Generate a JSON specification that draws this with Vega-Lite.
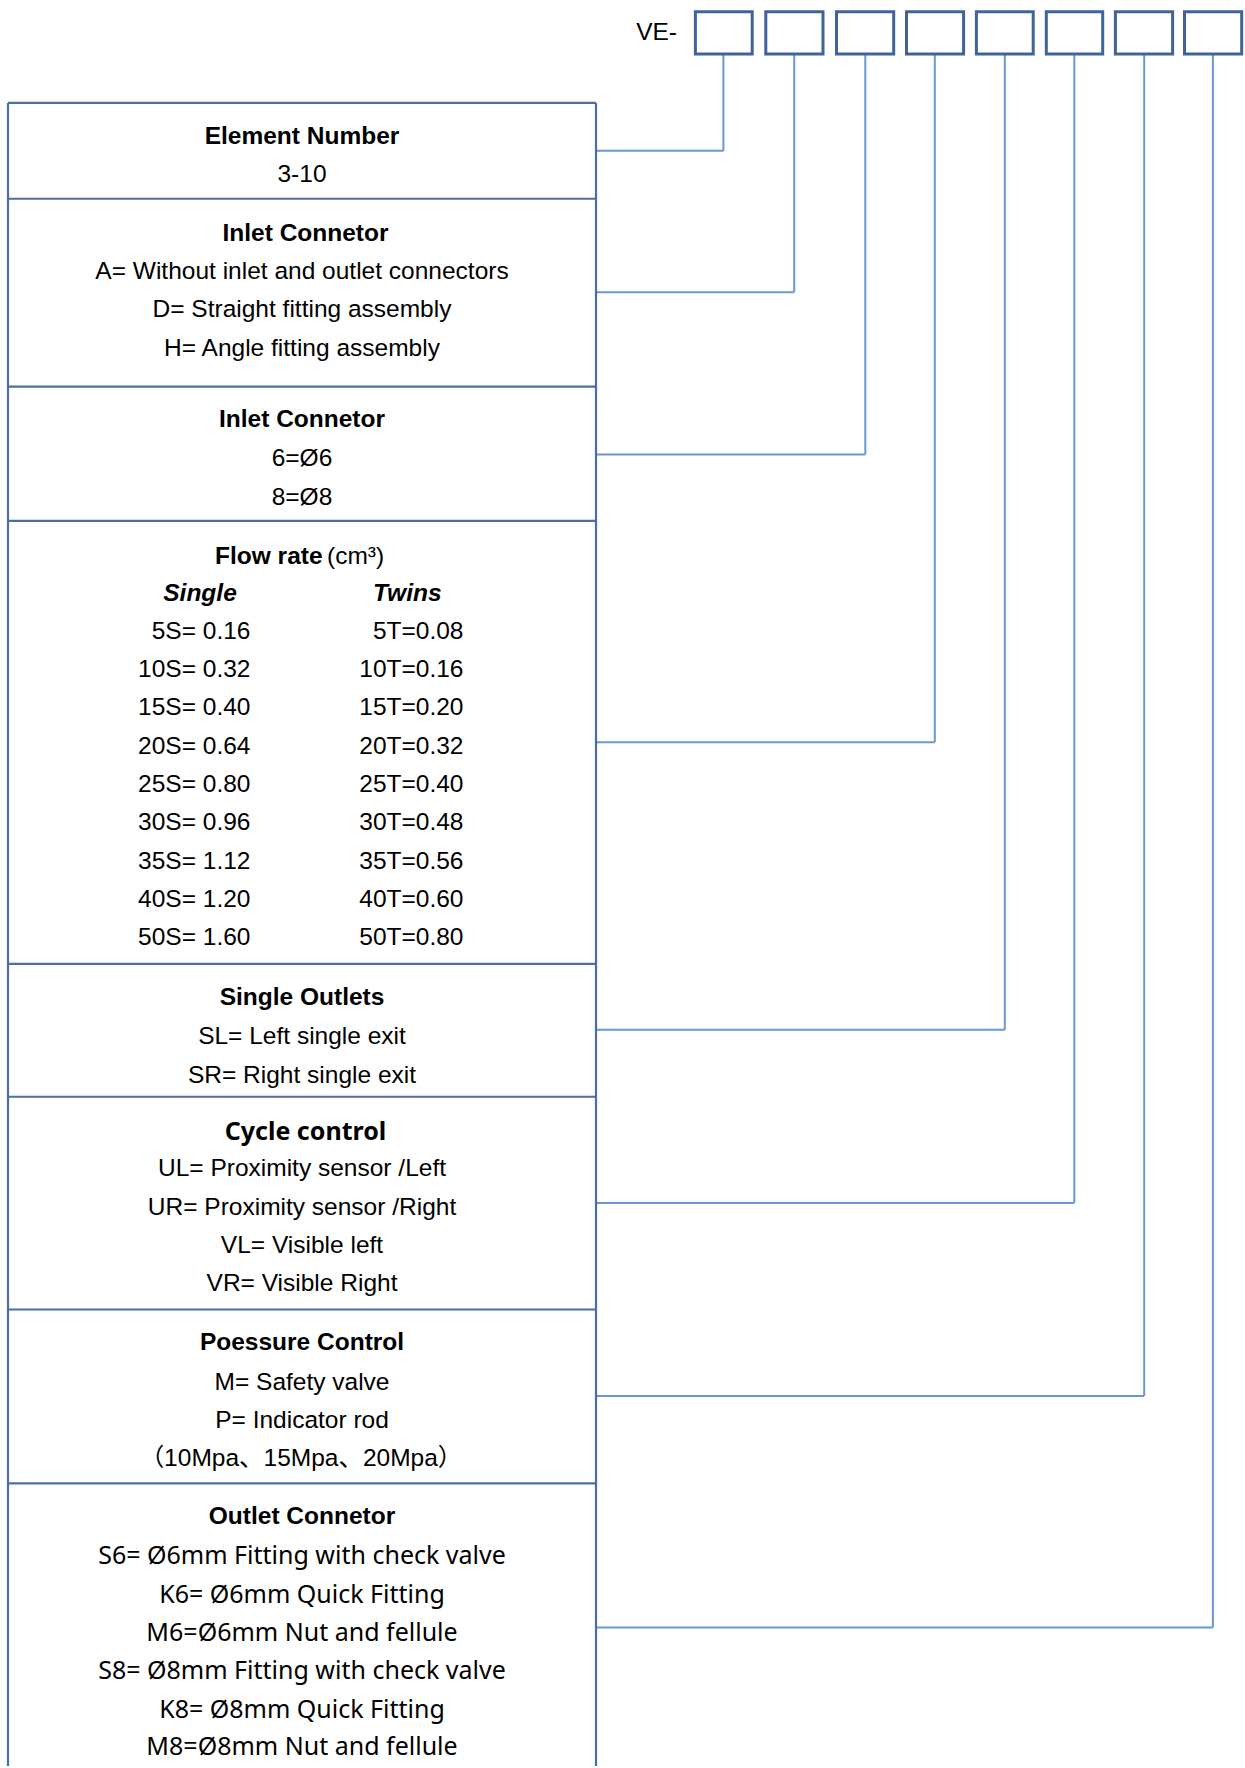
{
  "$schema": "https://vega.github.io/schema/vega-lite/v6.json",
  "width": 1245,
  "height": 1768,
  "autosize": {"type": "fit", "contains": "padding"},
  "padding": 0,
  "background": "white",
  "config": {"view": {"stroke": null}},
  "datasets": {
    "boxes": [
      {"slot": 1, "left": 695.4, "right": 752.2, "top": 11.7, "bottom": 54},
      {"slot": 2, "left": 765.8, "right": 823.0, "top": 11.7, "bottom": 54},
      {"slot": 3, "left": 836.5, "right": 893.7, "top": 11.7, "bottom": 54},
      {"slot": 4, "left": 906.5, "right": 963.6, "top": 11.7, "bottom": 54},
      {"slot": 5, "left": 976.4, "right": 1033.2, "top": 11.7, "bottom": 54},
      {"slot": 6, "left": 1046.3, "right": 1102.7, "top": 11.7, "bottom": 54},
      {"slot": 7, "left": 1115.4, "right": 1172.6, "top": 11.7, "bottom": 54},
      {"slot": 8, "left": 1184.5, "right": 1241.7, "top": 11.7, "bottom": 54}
    ],
    "segments": [
      {"kind": "table", "x": 8, "y": 103, "x2": 8, "y2": 1768},
      {"kind": "table", "x": 596, "y": 103, "x2": 596, "y2": 1768},
      {"kind": "table", "x": 8, "y": 103, "x2": 596, "y2": 103},
      {"kind": "table", "x": 8, "y": 199, "x2": 596, "y2": 199},
      {"kind": "table", "x": 8, "y": 387, "x2": 596, "y2": 387},
      {"kind": "table", "x": 8, "y": 521.5, "x2": 596, "y2": 521.5},
      {"kind": "table", "x": 8, "y": 965, "x2": 596, "y2": 965},
      {"kind": "table", "x": 8, "y": 1098, "x2": 596, "y2": 1098},
      {"kind": "table", "x": 8, "y": 1311, "x2": 596, "y2": 1311},
      {"kind": "table", "x": 8, "y": 1485, "x2": 596, "y2": 1485},
      {"kind": "link", "x": 723.4, "y": 54, "x2": 723.4, "y2": 151},
      {"kind": "link", "x": 596, "y": 151, "x2": 723.4, "y2": 151},
      {"kind": "link", "x": 794.2, "y": 54, "x2": 794.2, "y2": 292.5},
      {"kind": "link", "x": 596, "y": 292.5, "x2": 794.2, "y2": 292.5},
      {"kind": "link", "x": 865.3, "y": 54, "x2": 865.3, "y2": 455},
      {"kind": "link", "x": 596, "y": 455, "x2": 865.3, "y2": 455},
      {"kind": "link", "x": 934.8, "y": 54, "x2": 934.8, "y2": 743},
      {"kind": "link", "x": 596, "y": 743, "x2": 934.8, "y2": 743},
      {"kind": "link", "x": 1004.8, "y": 54, "x2": 1004.8, "y2": 1031},
      {"kind": "link", "x": 596, "y": 1031, "x2": 1004.8, "y2": 1031},
      {"kind": "link", "x": 1074.3, "y": 54, "x2": 1074.3, "y2": 1204.3},
      {"kind": "link", "x": 596, "y": 1204.3, "x2": 1074.3, "y2": 1204.3},
      {"kind": "link", "x": 1144.2, "y": 54, "x2": 1144.2, "y2": 1397.5},
      {"kind": "link", "x": 596, "y": 1397.5, "x2": 1144.2, "y2": 1397.5},
      {"kind": "link", "x": 1212.9, "y": 54, "x2": 1212.9, "y2": 1629.3},
      {"kind": "link", "x": 596, "y": 1629.3, "x2": 1212.9, "y2": 1629.3}
    ],
    "labels": [
      {"role": "right", "x": 677, "y": 31, "text": "VE-"},
      {"role": "title", "x": 302, "y": 135, "text": "Element Number"},
      {"role": "item", "x": 302, "y": 172.3, "text": "3-10"},
      {"role": "title", "x": 305.5, "y": 231.7, "text": "Inlet Connetor"},
      {"role": "item", "x": 302, "y": 270, "text": "A= Without inlet and outlet connectors"},
      {"role": "item", "x": 302, "y": 308.3, "text": "D= Straight fitting assembly"},
      {"role": "item", "x": 302, "y": 346.7, "text": "H= Angle fitting assembly"},
      {"role": "title", "x": 302, "y": 418.3, "text": "Inlet Connetor"},
      {"role": "item", "x": 302, "y": 457.5, "text": "6=Ø6"},
      {"role": "item", "x": 302, "y": 495.7, "text": "8=Ø8"},
      {"role": "titleLeft", "x": 215, "y": 555, "text": "Flow rate"},
      {"role": "itemLeft", "x": 327, "y": 555, "text": "(cm³)"},
      {"role": "col", "x": 200, "y": 591.7, "text": "Single"},
      {"role": "col", "x": 407.3, "y": 591.7, "text": "Twins"},
      {"role": "right", "x": 250.5, "y": 630, "text": "5S= 0.16"},
      {"role": "right", "x": 250.5, "y": 668.3, "text": "10S= 0.32"},
      {"role": "right", "x": 250.5, "y": 706.7, "text": "15S= 0.40"},
      {"role": "right", "x": 250.5, "y": 745, "text": "20S= 0.64"},
      {"role": "right", "x": 250.5, "y": 783.3, "text": "25S= 0.80"},
      {"role": "right", "x": 250.5, "y": 821.7, "text": "30S= 0.96"},
      {"role": "right", "x": 250.5, "y": 860, "text": "35S= 1.12"},
      {"role": "right", "x": 250.5, "y": 898.3, "text": "40S= 1.20"},
      {"role": "right", "x": 250.5, "y": 936.7, "text": "50S= 1.60"},
      {"role": "right", "x": 463.5, "y": 630, "text": "5T=0.08"},
      {"role": "right", "x": 463.5, "y": 668.3, "text": "10T=0.16"},
      {"role": "right", "x": 463.5, "y": 706.7, "text": "15T=0.20"},
      {"role": "right", "x": 463.5, "y": 745, "text": "20T=0.32"},
      {"role": "right", "x": 463.5, "y": 783.3, "text": "25T=0.40"},
      {"role": "right", "x": 463.5, "y": 821.7, "text": "30T=0.48"},
      {"role": "right", "x": 463.5, "y": 860, "text": "35T=0.56"},
      {"role": "right", "x": 463.5, "y": 898.3, "text": "40T=0.60"},
      {"role": "right", "x": 463.5, "y": 936.7, "text": "50T=0.80"},
      {"role": "title", "x": 302, "y": 996.7, "text": "Single Outlets"},
      {"role": "item", "x": 302, "y": 1036, "text": "SL= Left single exit"},
      {"role": "item", "x": 302, "y": 1074.3, "text": "SR= Right single exit"},
      {"role": "cjkTitle", "x": 305.5, "y": 1130.7, "text": "Cycle control"},
      {"role": "item", "x": 302, "y": 1168.3, "text": "UL= Proximity sensor /Left"},
      {"role": "item", "x": 302, "y": 1206.7, "text": "UR= Proximity sensor /Right"},
      {"role": "item", "x": 302, "y": 1245, "text": "VL= Visible left"},
      {"role": "item", "x": 302, "y": 1283.3, "text": "VR= Visible Right"},
      {"role": "title", "x": 302, "y": 1341.7, "text": "Poessure Control"},
      {"role": "item", "x": 302, "y": 1381.7, "text": "M= Safety valve"},
      {"role": "item", "x": 302, "y": 1420, "text": "P= Indicator rod"},
      {"role": "item", "x": 301, "y": 1458.3, "text": "（10Mpa、15Mpa、20Mpa）"},
      {"role": "title", "x": 302, "y": 1516.7, "text": "Outlet Connetor"},
      {"role": "cjkItem", "x": 302, "y": 1555.5, "text": "S6= Ø6mm Fitting with check valve"},
      {"role": "cjkItem", "x": 302, "y": 1594, "text": "K6= Ø6mm Quick Fitting"},
      {"role": "cjkItem", "x": 302, "y": 1632, "text": "M6=Ø6mm Nut and fellule"},
      {"role": "cjkItem", "x": 302, "y": 1670.5, "text": "S8= Ø8mm Fitting with check valve"},
      {"role": "cjkItem", "x": 302, "y": 1709, "text": "K8= Ø8mm Quick Fitting"},
      {"role": "cjkItem", "x": 302, "y": 1746.5, "text": "M8=Ø8mm Nut and fellule"}
    ]
  },
  "layer": [
    {
      "data": {"name": "segments"},
      "transform": [{"filter": "datum.kind === 'link'"}],
      "mark": {"type": "rule", "color": "#6A97D4", "strokeWidth": 2},
      "encoding": {
        "x": {"field": "x", "type": "quantitative", "scale": {"domain": [0, 1245], "nice": false, "zero": false}, "axis": null},
        "y": {"field": "y", "type": "quantitative", "scale": {"domain": [0, 1768], "nice": false, "zero": false, "reverse": true}, "axis": null},
        "x2": {"field": "x2"},
        "y2": {"field": "y2"}
      }
    },
    {
      "data": {"name": "segments"},
      "transform": [{"filter": "datum.kind === 'table'"}],
      "mark": {"type": "rule", "color": "#4C6DA5", "strokeWidth": 2.2},
      "encoding": {
        "x": {"field": "x", "type": "quantitative"},
        "y": {"field": "y", "type": "quantitative"},
        "x2": {"field": "x2"},
        "y2": {"field": "y2"}
      }
    },
    {
      "data": {"name": "boxes"},
      "mark": {"type": "rect", "fill": "white", "stroke": "#40639A", "strokeWidth": 3},
      "encoding": {
        "x": {"field": "left", "type": "quantitative"},
        "x2": {"field": "right"},
        "y": {"field": "top", "type": "quantitative"},
        "y2": {"field": "bottom"}
      }
    },
    {
      "data": {"name": "labels"},
      "transform": [{"filter": "datum.role === 'title'"}],
      "mark": {"type": "text", "font": "Liberation Sans", "fontWeight": "bold", "fontSize": 24.5, "align": "center", "baseline": "middle", "dy": 2.5, "color": "#000000"},
      "encoding": {"x": {"field": "x", "type": "quantitative"}, "y": {"field": "y", "type": "quantitative"}, "text": {"field": "text"}}
    },
    {
      "data": {"name": "labels"},
      "transform": [{"filter": "datum.role === 'item'"}],
      "mark": {"type": "text", "font": "Liberation Sans, Noto Sans CJK SC", "fontSize": 24.5, "align": "center", "baseline": "middle", "dy": 2.5, "color": "#000000"},
      "encoding": {"x": {"field": "x", "type": "quantitative"}, "y": {"field": "y", "type": "quantitative"}, "text": {"field": "text"}}
    },
    {
      "data": {"name": "labels"},
      "transform": [{"filter": "datum.role === 'right'"}],
      "mark": {"type": "text", "font": "Liberation Sans", "fontSize": 24.5, "align": "right", "baseline": "middle", "dy": 2.5, "color": "#000000"},
      "encoding": {"x": {"field": "x", "type": "quantitative"}, "y": {"field": "y", "type": "quantitative"}, "text": {"field": "text"}}
    },
    {
      "data": {"name": "labels"},
      "transform": [{"filter": "datum.role === 'titleLeft'"}],
      "mark": {"type": "text", "font": "Liberation Sans", "fontWeight": "bold", "fontSize": 24.5, "align": "left", "baseline": "middle", "dy": 2.5, "color": "#000000"},
      "encoding": {"x": {"field": "x", "type": "quantitative"}, "y": {"field": "y", "type": "quantitative"}, "text": {"field": "text"}}
    },
    {
      "data": {"name": "labels"},
      "transform": [{"filter": "datum.role === 'itemLeft'"}],
      "mark": {"type": "text", "font": "Liberation Sans", "fontSize": 24.5, "align": "left", "baseline": "middle", "dy": 2.5, "color": "#000000"},
      "encoding": {"x": {"field": "x", "type": "quantitative"}, "y": {"field": "y", "type": "quantitative"}, "text": {"field": "text"}}
    },
    {
      "data": {"name": "labels"},
      "transform": [{"filter": "datum.role === 'col'"}],
      "mark": {"type": "text", "font": "Liberation Sans", "fontWeight": "bold", "fontStyle": "italic", "fontSize": 24.5, "align": "center", "baseline": "middle", "dy": 2.5, "color": "#000000"},
      "encoding": {"x": {"field": "x", "type": "quantitative"}, "y": {"field": "y", "type": "quantitative"}, "text": {"field": "text"}}
    },
    {
      "data": {"name": "labels"},
      "transform": [{"filter": "datum.role === 'cjkTitle'"}],
      "mark": {"type": "text", "font": "Noto Sans", "fontWeight": "bold", "fontSize": 25, "align": "center", "baseline": "middle", "dy": 2.5, "color": "#000000"},
      "encoding": {"x": {"field": "x", "type": "quantitative"}, "y": {"field": "y", "type": "quantitative"}, "text": {"field": "text"}}
    },
    {
      "data": {"name": "labels"},
      "transform": [{"filter": "datum.role === 'cjkItem'"}],
      "mark": {"type": "text", "font": "Noto Sans", "fontSize": 25, "align": "center", "baseline": "middle", "dy": 2.5, "color": "#000000"},
      "encoding": {"x": {"field": "x", "type": "quantitative"}, "y": {"field": "y", "type": "quantitative"}, "text": {"field": "text"}}
    }
  ]
}
